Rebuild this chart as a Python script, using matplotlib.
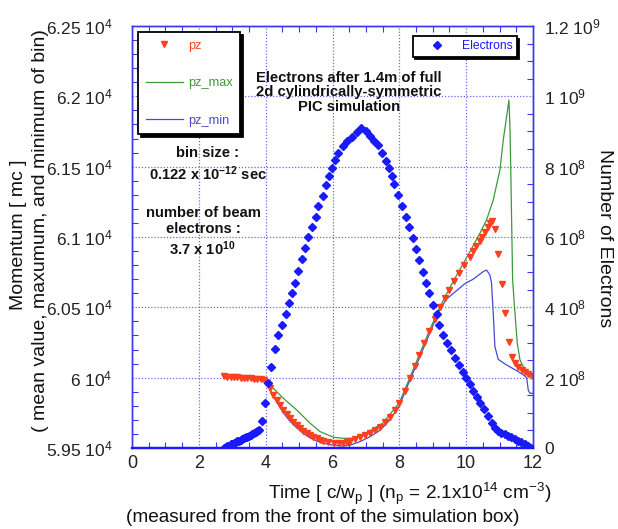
import matplotlib
matplotlib.use("Agg")
import matplotlib.pyplot as plt
from matplotlib.ticker import FixedLocator, FixedFormatter, MultipleLocator

plt.rcParams['font.family'] = ['Liberation Sans', 'DejaVu Sans']
plt.rcParams['mathtext.fontset'] = 'custom'
plt.rcParams['mathtext.rm'] = 'Liberation Sans'
plt.rcParams['mathtext.it'] = 'Liberation Sans'
plt.rcParams['mathtext.bf'] = 'Liberation Sans:bold'

# ---------------- data ----------------
# Electrons per bin (units of 1e8)
t_e = [2.75, 2.80, 2.85, 2.90, 2.95, 3.00, 3.05, 3.10, 3.15, 3.20, 3.25, 3.30, 3.35, 3.40,
       3.45, 3.50, 3.55, 3.60, 3.65, 3.70, 3.75, 3.81, 3.90, 3.98, 4.06, 4.16, 4.28, 4.38,
       4.48, 4.60, 4.70, 4.80, 4.89, 4.98, 5.10, 5.19, 5.28, 5.40, 5.50, 5.58, 5.71, 5.80,
       5.89, 5.98, 6.07, 6.17, 6.30, 6.42, 6.57, 6.72, 6.84, 7.00, 7.12, 7.25, 7.37, 7.47,
       7.59, 7.69, 7.77, 7.85, 7.97, 8.07, 8.20, 8.30, 8.40, 8.50, 8.58, 8.70, 8.80, 8.90,
       9.02, 9.12, 9.20, 9.32, 9.42, 9.54, 9.66, 9.80, 9.92, 10.00, 10.11, 10.21, 10.31,
       10.41, 10.54, 10.64, 10.76, 10.86, 10.95, 11.05, 11.15, 11.25, 11.35, 11.45, 11.55,
       11.65, 11.75, 11.85, 11.95]
n_e = [0.00, 0.03, 0.05, 0.07, 0.10, 0.12, 0.14, 0.16, 0.19, 0.21, 0.23, 0.26, 0.28, 0.30,
       0.32, 0.35, 0.37, 0.40, 0.42, 0.45, 0.47, 0.51, 0.78, 1.27, 1.84, 2.31, 2.82, 3.21,
       3.50, 3.81, 4.11, 4.42, 4.70, 5.03, 5.37, 5.68, 5.99, 6.28, 6.58, 6.89, 7.17, 7.48,
       7.73, 7.95, 8.19, 8.40, 8.59, 8.73, 8.85, 8.99, 9.09, 9.00, 8.87, 8.74, 8.62, 8.38,
       8.17, 7.95, 7.73, 7.51, 7.19, 6.89, 6.58, 6.29, 5.96, 5.66, 5.35, 5.01, 4.70, 4.40,
       4.07, 3.81, 3.50, 3.21, 2.98, 2.79, 2.55, 2.36, 2.17, 2.00, 1.82, 1.62, 1.44,
       1.27, 1.10, 0.91, 0.70, 0.56, 0.49, 0.44, 0.40, 0.35, 0.31, 0.26, 0.21,
       0.16, 0.11, 0.06, 0.01]

# Mean momentum pz
t_pz = [2.75, 2.85, 2.95, 3.05, 3.15, 3.25, 3.35, 3.45, 3.55, 3.65, 3.75, 3.85, 3.95, 4.05,
        4.13, 4.23, 4.33, 4.43, 4.53, 4.63, 4.73, 4.83, 4.93, 5.03, 5.13, 5.23, 5.33, 5.43,
        5.53, 5.63, 5.73, 5.88, 6.03, 6.18, 6.32, 6.42, 6.52, 6.67, 6.82, 6.97, 7.12, 7.27,
        7.42, 7.57, 7.72, 7.87, 8.00, 8.16, 8.32, 8.46, 8.60, 8.75, 8.90, 9.06, 9.22, 9.36,
        9.50, 9.65, 9.80, 9.95, 10.10, 10.20, 10.30, 10.40, 10.48, 10.56, 10.64, 10.70, 10.76,
        10.86, 10.96, 11.06, 11.17, 11.27, 11.37, 11.46, 11.56, 11.66, 11.76, 11.86, 11.96]
pz = [60010, 60008, 60006, 60004, 60002, 60000, 59998, 59997, 59995, 59993, 59991, 59988, 59983, 59963,
      59924, 59880, 59841, 59804, 59770, 59740, 59711, 59686, 59663, 59642, 59623, 59607, 59592, 59580,
      59569, 59560, 59552, 59544, 59538, 59536, 59538, 59544, 59552, 59563, 59576, 59592, 59609, 59629,
      59651, 59683, 59722, 59770, 59820, 59905, 60000, 60080, 60160, 60245, 60330, 60415, 60500, 60563,
      60625, 60685, 60745, 60803, 60860, 60898, 60935, 60970, 61000, 61035, 61070, 61100, 61116,
      61055, 60879, 60666, 60458, 60253, 60147, 60102, 60075, 60055, 60040, 60025, 60012]

# Maximum momentum in bin
t_max = [2.75, 3.25, 3.75, 3.95, 4.05, 4.18, 4.53, 4.93, 5.33, 5.63, 6.03, 6.32, 6.62, 7.02,
         7.50, 8.00, 8.32, 8.60, 8.90, 9.22, 9.50, 9.80, 10.10, 10.41, 10.61, 10.81, 11.01,
         11.11, 11.21, 11.28, 11.31, 11.34, 11.39, 11.46, 11.53, 11.61, 11.76, 11.91, 12.00]
pz_max = [60010, 60000, 59991, 59985, 59975, 59936, 59853, 59770, 59676, 59616, 59576, 59569, 59569, 59609,
          59675, 59822, 60003, 60165, 60335, 60505, 60635, 60765, 60890, 61026, 61121, 61263, 61476,
          61690, 61855, 61974, 61784, 61405, 60694, 60458, 60244, 60126, 60055, 60007, 59995]

# Minimum momentum in bin
t_min = [2.75, 3.25, 3.75, 3.95, 4.05, 4.13, 4.33, 4.53, 4.73, 4.93, 5.13, 5.33, 5.53, 5.73,
         6.03, 6.32, 6.52, 6.82, 7.12, 7.42, 7.72, 8.00, 8.32, 8.60, 8.90, 9.22, 9.42, 9.72,
         9.96, 10.21, 10.51, 10.61, 10.71, 10.76, 10.81, 10.86, 10.96, 11.21, 11.51, 11.71,
         11.81, 11.86, 11.91, 12.00]
pz_min = [60007, 59997, 59988, 59978, 59955, 59915, 59825, 59750, 59690, 59643, 59603, 59572, 59550, 59533,
          59520, 59514, 59520, 59545, 59580, 59625, 59700, 59800, 59985, 60140, 60310, 60490, 60560, 60620,
          60668, 60700, 60754, 60765, 60730, 60671, 60458, 60220, 60130, 60090, 60050, 60020,
          60000, 59910, 59889, 59889]

x_ticks = [0, 2, 4, 6, 8, 10, 12]
x_ticklabels = ['0', '2', '4', '6', '8', '10', '12']
yl_ticks = [59500, 60000, 60500, 61000, 61500, 62000, 62500]
yl_ticklabels = ['5.95 10$^4$', '6 10$^4$', '6.05 10$^4$', '6.1 10$^4$',
                 '6.15 10$^4$', '6.2 10$^4$', '6.25 10$^4$']
yr_ticks = [0, 2e8, 4e8, 6e8, 8e8, 1e9, 1.2e9]
yr_ticklabels = ['0', '2 10$^8$', '4 10$^8$', '6 10$^8$', '8 10$^8$', '1 10$^9$', '1.2 10$^9$']

# ---------------- styles ----------------
AX_BLUE = '#3838f0'
GRID_BLUE = '#6a6ae8'
C_PZ = '#ff4020'
C_MAX = '#3a9a3a'
C_MIN = '#4848d0'
C_E = '#1a1aff'
TXT = '#111111'

fig = plt.figure(figsize=(6.18, 5.29), dpi=100)
ax = fig.add_axes([132/618, 1-448/529, (533-132)/618, (448-26)/529])
ax2 = ax.twinx()

ax.set_xlim(0, 12)
ax.set_ylim(59500, 62500)
ax2.set_ylim(0, 1.2e9)

l_max, = ax.plot(t_max, pz_max, color=C_MAX, lw=0.9, label='pz_max', zorder=3)
l_min, = ax.plot(t_min, pz_min, color=C_MIN, lw=0.9, label='pz_min', zorder=3)
l_pz, = ax.plot(t_pz, pz, linestyle='none', marker='v', ms=4.0, color=C_PZ,
                mec=C_PZ, label='pz', zorder=4)
l_e, = ax2.plot(t_e, [v * 1e8 for v in n_e], linestyle='none', marker='D', ms=4.2,
                color=C_E, mec=C_E, label='Electrons', zorder=3)

# ticks
ax.xaxis.set_major_locator(FixedLocator(x_ticks))
ax.xaxis.set_major_formatter(FixedFormatter(x_ticklabels))
ax.xaxis.set_minor_locator(MultipleLocator(0.5))
ax.yaxis.set_major_locator(FixedLocator(yl_ticks))
ax.yaxis.set_major_formatter(FixedFormatter(yl_ticklabels))
ax.yaxis.set_minor_locator(MultipleLocator(100))
ax2.yaxis.set_major_locator(FixedLocator(yr_ticks))
ax2.yaxis.set_major_formatter(FixedFormatter(yr_ticklabels))
ax2.yaxis.set_minor_locator(MultipleLocator(5e7))

ax.tick_params(axis='x', which='both', direction='in', top=True, colors=AX_BLUE,
               labelcolor='#222222', labelsize=13, pad=5)
ax.tick_params(axis='x', which='major', length=0)
ax.tick_params(axis='x', which='minor', length=4, width=0.8)
ax.tick_params(axis='y', which='both', direction='in', colors=AX_BLUE,
               labelcolor='#222222', labelsize=12.5, pad=14)
ax.tick_params(axis='y', which='major', length=0)
ax.tick_params(axis='y', which='minor', length=4, width=0.8)
ax2.tick_params(axis='y', which='both', direction='in', colors=AX_BLUE,
                labelcolor='#222222', labelsize=12.5, pad=8)
ax2.tick_params(axis='y', which='major', length=0)
ax2.tick_params(axis='y', which='minor', length=4, width=0.8)

ax.grid(True, which='major', color=GRID_BLUE, linestyle=(0, (1, 1.5)), linewidth=0.9)
ax.set_axisbelow(True)

for a in (ax, ax2):
    for s in a.spines.values():
        s.set_color(AX_BLUE)
        s.set_linewidth(1.0)
    a.spines['bottom'].set_linewidth(1.6)
    a.spines['bottom'].set_color('#1a1aff')

# legends
leg1 = ax2.legend(handles=[l_pz, l_max, l_min], loc='upper left',
                  bbox_to_anchor=(0.015, 0.986), borderaxespad=0, fontsize=9.2,
                  frameon=True, fancybox=False, edgecolor='black', framealpha=1,
                  borderpad=0.6, labelspacing=2.0, handlelength=2.9, handletextpad=0.4,
                  shadow={'color': 'black', 'alpha': 1})
leg1.get_frame().set_linewidth(1.3)
for txt, c in zip(leg1.get_texts(), [C_PZ, C_MAX, C_MIN]):
    txt.set_color(c)
ax2.add_artist(leg1)

leg2 = ax2.legend(handles=[l_e], loc='upper left', bbox_to_anchor=(0.70, 0.976),
                  borderaxespad=0, fontsize=8.7, frameon=True, fancybox=False,
                  edgecolor='black', framealpha=1, borderpad=0.35, handlelength=3.3,
                  handletextpad=0.4, shadow={'color': 'black', 'alpha': 1})
leg2.get_frame().set_linewidth(1.3)
leg2.get_texts()[0].set_color(C_E)

# annotations (one text per line)
notes = [
    (349, 78, 'Electrons after 1.4m of full'),
    (349, 92, '2d cylindrically-symmetric'),
    (349, 107, 'PIC simulation'),
    (207, 153, 'bin size :'),
    (208, 174, r'0.122 x 10$^{\mathbf{-12}}$ sec'),
    (203, 213, 'number of beam'),
    (203, 229, 'electrons :'),
    (202, 249, r'3.7 x 10$^{\mathbf{10}}$'),
]
for x, y, s in notes:
    fig.text(x/618, 1-y/529, s, ha='center', va='center', fontsize=10.6,
             fontweight='bold', color=TXT)

# axis labels
fig.text(410/618, 1-494/529, r'Time [ c/w$_\mathrm{p}$ ] (n$_\mathrm{p}$ = 2.1x10$^{14}$ cm$^{-3}$)',
         ha='center', va='center', fontsize=13.7, color=TXT)
fig.text(323/618, 1-517/529, '(measured from the front of the simulation box)',
         ha='center', va='center', fontsize=13.7, color=TXT)
fig.text(19/618, 1-235/529, 'Momentum [ mc ]', rotation=90, ha='center', va='center',
         fontsize=14, color=TXT)
fig.text(41/618, 1-231/529, '( mean value, maxumum, and minimum of bin)', rotation=90,
         ha='center', va='center', fontsize=14, color=TXT)
fig.text(605/618, 1-238/529, 'Number of Electrons', rotation=270, ha='center', va='center',
         fontsize=14, color=TXT)

fig.savefig('out.png', dpi=100)
